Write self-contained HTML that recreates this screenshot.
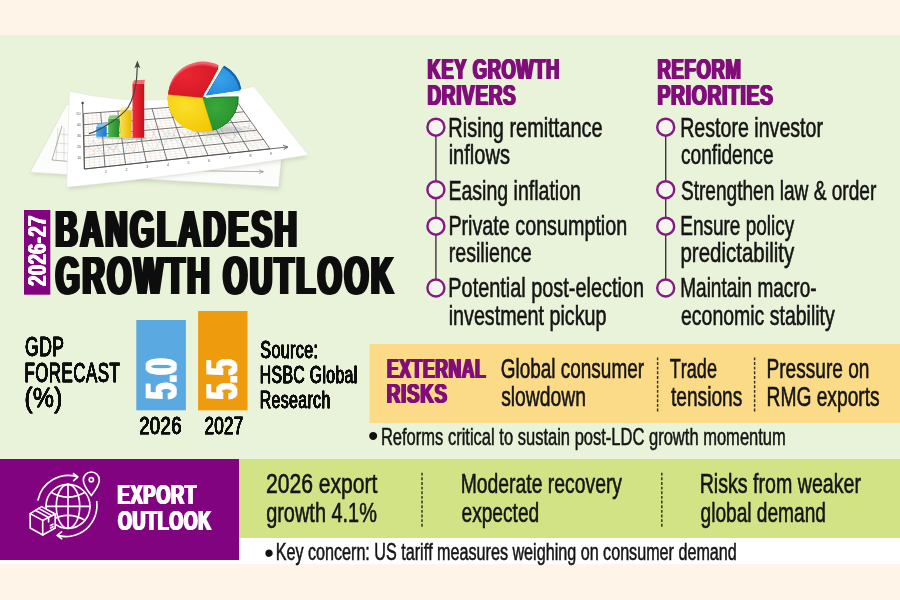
<!DOCTYPE html>
<html lang="en"><head><meta charset="utf-8"><title>Bangladesh Growth Outlook 2026-27</title>
<style>
html,body{margin:0;padding:0;background:#fef4e8;}
body{width:900px;height:600px;overflow:hidden;}
svg{display:block;font-family:'Liberation Sans', Arial, sans-serif;font-kerning:none;}
</style></head><body>
<svg width="900" height="600" viewBox="0 0 900 600">
<defs><filter id="fat19" x="-5%" y="-20%" width="110%" height="140%"><feOffset in="SourceGraphic" dx="1.9" result="a"/><feOffset in="SourceGraphic" dx="-1.9" result="b"/><feOffset in="SourceGraphic" dx="0.95" result="c"/><feOffset in="SourceGraphic" dx="-0.95" result="d"/><feMerge><feMergeNode in="a"/><feMergeNode in="b"/><feMergeNode in="c"/><feMergeNode in="d"/><feMergeNode in="SourceGraphic"/></feMerge></filter><filter id="fat14" x="-5%" y="-20%" width="110%" height="140%"><feOffset in="SourceGraphic" dx="1.4" result="a"/><feOffset in="SourceGraphic" dx="-1.4" result="b"/><feOffset in="SourceGraphic" dx="0.7" result="c"/><feOffset in="SourceGraphic" dx="-0.7" result="d"/><feMerge><feMergeNode in="a"/><feMergeNode in="b"/><feMergeNode in="c"/><feMergeNode in="d"/><feMergeNode in="SourceGraphic"/></feMerge></filter><filter id="fat05" x="-5%" y="-20%" width="110%" height="140%"><feOffset in="SourceGraphic" dx="0.5" result="a"/><feOffset in="SourceGraphic" dx="-0.5" result="b"/><feOffset in="SourceGraphic" dx="0.25" result="c"/><feOffset in="SourceGraphic" dx="-0.25" result="d"/><feMerge><feMergeNode in="a"/><feMergeNode in="b"/><feMergeNode in="c"/><feMergeNode in="d"/><feMergeNode in="SourceGraphic"/></feMerge></filter><filter id="fat045" x="-5%" y="-20%" width="110%" height="140%"><feOffset in="SourceGraphic" dx="0.45" result="a"/><feOffset in="SourceGraphic" dx="-0.45" result="b"/><feOffset in="SourceGraphic" dx="0.225" result="c"/><feOffset in="SourceGraphic" dx="-0.225" result="d"/><feMerge><feMergeNode in="a"/><feMergeNode in="b"/><feMergeNode in="c"/><feMergeNode in="d"/><feMergeNode in="SourceGraphic"/></feMerge></filter><filter id="fat04" x="-5%" y="-20%" width="110%" height="140%"><feOffset in="SourceGraphic" dx="0.4" result="a"/><feOffset in="SourceGraphic" dx="-0.4" result="b"/><feOffset in="SourceGraphic" dx="0.2" result="c"/><feOffset in="SourceGraphic" dx="-0.2" result="d"/><feMerge><feMergeNode in="a"/><feMergeNode in="b"/><feMergeNode in="c"/><feMergeNode in="d"/><feMergeNode in="SourceGraphic"/></feMerge></filter><filter id="fat035" x="-5%" y="-20%" width="110%" height="140%"><feOffset in="SourceGraphic" dx="0.35" result="a"/><feOffset in="SourceGraphic" dx="-0.35" result="b"/><feOffset in="SourceGraphic" dx="0.175" result="c"/><feOffset in="SourceGraphic" dx="-0.175" result="d"/><feMerge><feMergeNode in="a"/><feMergeNode in="b"/><feMergeNode in="c"/><feMergeNode in="d"/><feMergeNode in="SourceGraphic"/></feMerge></filter><filter id="fat06" x="-5%" y="-20%" width="110%" height="140%"><feOffset in="SourceGraphic" dx="0.6" result="a"/><feOffset in="SourceGraphic" dx="-0.6" result="b"/><feOffset in="SourceGraphic" dx="0.3" result="c"/><feOffset in="SourceGraphic" dx="-0.3" result="d"/><feMerge><feMergeNode in="a"/><feMergeNode in="b"/><feMergeNode in="c"/><feMergeNode in="d"/><feMergeNode in="SourceGraphic"/></feMerge></filter><filter id="fat03" x="-5%" y="-20%" width="110%" height="140%"><feOffset in="SourceGraphic" dx="0.3" result="a"/><feOffset in="SourceGraphic" dx="-0.3" result="b"/><feOffset in="SourceGraphic" dx="0.15" result="c"/><feOffset in="SourceGraphic" dx="-0.15" result="d"/><feMerge><feMergeNode in="a"/><feMergeNode in="b"/><feMergeNode in="c"/><feMergeNode in="d"/><feMergeNode in="SourceGraphic"/></feMerge></filter><filter id="fat08" x="-5%" y="-20%" width="110%" height="140%"><feOffset in="SourceGraphic" dx="0.8" result="a"/><feOffset in="SourceGraphic" dx="-0.8" result="b"/><feOffset in="SourceGraphic" dx="0.4" result="c"/><feOffset in="SourceGraphic" dx="-0.4" result="d"/><feMerge><feMergeNode in="a"/><feMergeNode in="b"/><feMergeNode in="c"/><feMergeNode in="d"/><feMergeNode in="SourceGraphic"/></feMerge></filter></defs>
<rect x="0" y="0" width="900" height="600" fill="#fef4e8"/>
<rect x="0" y="35" width="900" height="424" fill="#e8f3da"/>
<rect x="0" y="459" width="900" height="105" fill="#ffffff"/>
<rect x="0" y="459" width="239" height="101" fill="#82037f"/>
<rect x="239" y="459" width="661" height="79" fill="#d2e385"/>
<rect x="369.5" y="344" width="530.5" height="79" fill="#fbdb87"/>
<g id="chart">
<defs><linearGradient id="gRed" x1="0" y1="0" x2="1" y2="0"><stop offset="0" stop-color="#f0303a"/><stop offset="1" stop-color="#c8101c"/></linearGradient><linearGradient id="gYel" x1="0" y1="0" x2="1" y2="0"><stop offset="0" stop-color="#fbe04a"/><stop offset="1" stop-color="#e8b800"/></linearGradient><linearGradient id="gGrn" x1="0" y1="0" x2="1" y2="0"><stop offset="0" stop-color="#4fb84a"/><stop offset="1" stop-color="#238a28"/></linearGradient><linearGradient id="gBlu" x1="0" y1="0" x2="1" y2="0"><stop offset="0" stop-color="#4aa6e8"/><stop offset="1" stop-color="#1878c8"/></linearGradient><radialGradient id="pRed" cx="0.35" cy="0.3" r="0.9"><stop offset="0" stop-color="#ea2632"/><stop offset="1" stop-color="#d01522"/></radialGradient><radialGradient id="pYel" cx="0.4" cy="0.3" r="0.9"><stop offset="0" stop-color="#fbe02a"/><stop offset="1" stop-color="#f0c400"/></radialGradient><radialGradient id="pGrn" cx="0.4" cy="0.3" r="0.9"><stop offset="0" stop-color="#3aa83c"/><stop offset="1" stop-color="#228a2a"/></radialGradient><radialGradient id="pBlu" cx="0.4" cy="0.4" r="0.9"><stop offset="0" stop-color="#3aa2ec"/><stop offset="1" stop-color="#1c80d4"/></radialGradient><filter id="sh" x="-10%" y="-10%" width="120%" height="130%"><feGaussianBlur stdDeviation="2"/></filter></defs>
<polygon points="32,174 280,190 283,160 68,110" fill="#9aa58a" opacity="0.35" filter="url(#sh)"/>
<polygon points="67,104 30,172.4 278.75,187 281.5,158" fill="#fcfcfa" stroke="#d5d9cc" stroke-width="0.5"/>
<g stroke="#666" stroke-width="0.5" fill="none"><path d="M62,126 L52,160 L120,166"/><path d="M150,170 L263,171.7"/><path d="M259,169.8 L263.5,171.7 L259,173.6"/></g>
<g stroke="#999" stroke-width="0.3"><path d="M60,134 L68,135 M57.5,143 L68,144 M55,152 L68,153 M58,128 L56,160 M64,128 L64,161"/></g>
<polygon points="69,189.5 308,157.5 300,152 69,181" fill="#8a947a" opacity="0.3" filter="url(#sh)"/>
<path d="M69.3,91.3 Q155,111 254,86.5 L308.3,155 Q187,175.5 66.7,187.3 Z" fill="#ffffff" stroke="#dde0d6" stroke-width="0.5"/>
<path d="M87.9,113.3L89.6,168.4M92.1,113.0L94.7,167.9M96.4,112.7L99.9,167.3M105.0,112.1L110.2,166.2M109.2,111.8L115.3,165.6M113.5,111.4L120.5,165.1M122.1,110.8L130.8,163.9M126.3,110.5L136.0,163.4M130.6,110.2L141.1,162.8M139.2,109.6L151.4,161.7M143.4,109.3L156.6,161.1M147.7,109.0L161.7,160.6M156.3,108.4L172.0,159.4M160.6,108.0L177.2,158.9M164.8,107.7L182.4,158.3M173.4,107.1L192.7,157.2M177.7,106.8L197.8,156.6M181.9,106.5L203.0,156.1M190.5,105.9L213.3,154.9M194.8,105.6L218.4,154.4M199.0,105.3L223.6,153.8M207.6,104.7L233.9,152.7M211.8,104.3L239.1,152.1M216.1,104.0L244.2,151.6M224.7,103.4L254.5,150.4M228.9,103.1L259.7,149.9M233.2,102.8L264.8,149.3M83.6,116.4L239.1,104.8M83.7,119.1L240.8,107.1M83.7,121.9L242.4,109.4M83.8,127.4L245.6,114.1M83.8,130.2L247.2,116.4M83.9,133.0L248.9,118.7M84.0,138.5L252.1,123.3M84.0,141.3L253.8,125.6M84.0,144.1L255.4,127.9M84.1,149.6L258.6,132.6M84.2,152.4L260.2,134.9M84.2,155.2L261.9,137.2M84.3,160.7L265.1,141.8M84.3,163.5L266.8,144.1M84.4,166.2L268.4,146.4" stroke="#d8c8b8" stroke-width="0.3" fill="none"/>
<path d="M83.6,113.6L84.4,169.0M100.7,112.4L105.0,166.8M117.8,111.1L125.6,164.5M134.9,109.9L146.3,162.2M152.0,108.7L166.9,160.0M169.1,107.4L187.5,157.8M186.2,106.2L208.1,155.5M203.3,105.0L228.8,153.2M220.4,103.7L249.4,151.0M237.5,102.5L270.0,148.8M83.6,113.6L237.5,102.5M83.8,124.7L244.0,111.8M83.9,135.8L250.5,121.0M84.1,146.8L257.0,130.2M84.2,157.9L263.5,139.5M84.4,169.0L270.0,148.8" stroke="#484848" stroke-width="0.75" fill="none"/>
<polyline points="84.0,144.1 93.9,151.4 102.9,139.6 113.8,152.2 121.3,135.1 134.0,152.8 138.9,128.2 151.3,140.4 156.5,124.1 171.4,141.1 176.5,127.6 191.8,141.7 197.2,130.8 201.9,120.2 217.3,131.5 232.3,140.2 237.8,132.1 244.3,126.5 260.2,134.9" fill="none" stroke="#e88a7a" stroke-width="0.6" opacity="0.55"/>
<polyline points="84.2,152.4 93.4,140.4 104.2,155.9 112.9,144.1 124.5,156.5 130.2,131.7 141.7,141.3 147.4,124.8 163.2,147.2 168.9,133.5 183.8,147.7 189.8,136.7 195.0,125.9 211.3,139.7 210.9,119.5 233.6,142.6 234.9,127.4 247.4,131.2 250.5,121.0" fill="none" stroke="#8ab4dc" stroke-width="0.6" opacity="0.55"/>
<polyline points="84.2,157.9 94.1,154.2 103.3,145.0 113.5,149.5 122.1,140.5 132.6,144.9 140.6,136.1 154.0,150.8 160.9,139.5 168.0,130.9 181.1,140.1 187.7,131.7 204.8,148.1 207.8,132.4 221.1,138.8 222.7,123.5 246.5,146.3 244.3,126.5 257.0,130.2" fill="none" stroke="#9acb8a" stroke-width="0.6" opacity="0.55"/>
<g stroke="#444" stroke-width="0.8" fill="none"><path d="M82.6,103 L84.4,169 L287.5,147"/><path d="M283,145.2 L287.8,147 L283.6,149.6"/><circle cx="82.6" cy="103" r="0.9" fill="#444"/></g>
<g font-size="3.6" fill="#555" text-anchor="end">
<text x="80.6" y="114.8">50</text>
<text x="80.8" y="125.9">40</text>
<text x="80.9" y="137.0">30</text>
<text x="81.1" y="148.0">20</text>
<text x="81.2" y="159.1">10</text>
</g><g font-size="3.6" fill="#555" text-anchor="middle">
<text x="106.0" y="172.8">1</text>
<text x="126.6" y="170.5">2</text>
<text x="147.3" y="168.2">3</text>
<text x="167.9" y="166.0">4</text>
<text x="188.5" y="163.8">5</text>
<text x="209.1" y="161.5">6</text>
<text x="229.8" y="159.2">7</text>
<text x="250.4" y="157.0">8</text>
<text x="271.0" y="154.8">9</text>
</g>
<ellipse cx="102.5" cy="137.2" rx="7.2" ry="1.8" fill="#777" opacity="0.3"/>
<rect x="96.2" y="127" width="10.5" height="9.7" fill="url(#gBlu)"/>
<polygon points="96.2,127 97.7,123.8 107.5,123.2 106.7,127" fill="#7cc4f4"/>
<ellipse cx="114.8" cy="137.7" rx="7.5" ry="1.8" fill="#777" opacity="0.3"/>
<rect x="108.2" y="118.7" width="11.1" height="18.5" fill="url(#gGrn)"/>
<polygon points="108.2,118.7 109.7,115.5 120.1,114.9 119.3,118.7" fill="#7ad070"/>
<ellipse cx="126.9" cy="138.3" rx="7.7" ry="1.8" fill="#777" opacity="0.3"/>
<rect x="120.2" y="110.5" width="11.5" height="27.3" fill="url(#gYel)"/>
<polygon points="120.2,110.5 121.7,107.3 132.5,106.7 131.7,110.5" fill="#fff08a"/>
<ellipse cx="139.3" cy="138.3" rx="7.8" ry="1.8" fill="#777" opacity="0.3"/>
<rect x="132.5" y="83.5" width="11.7" height="54.3" fill="url(#gRed)"/>
<polygon points="132.5,83.5 134.0,80.3 145.0,79.7 144.2,83.5" fill="#f86a70"/>
<path d="M89,133.7 C97,131.5 104,127 111,122.5 C119,117 124,113 128,107.5 C132,101 135.5,90 136.7,77.5 L137.3,66" fill="none" stroke="#454545" stroke-width="1.2"/>
<path d="M134.4,68.2 L137.4,60.5 L140.3,68.2 L137.3,66.6 Z" fill="#454545"/>
<ellipse cx="216.5" cy="129.9" rx="26" ry="4.5" fill="#555" opacity="0.28" filter="url(#sh)"/>
<path d="M203.1,93.8 L168.7,90.4 A34.7,33.3 0 0 1 218.4,65.0 Z" fill="#f4606a"/>
<path d="M202.5,96.6 L212.6,129.5 A34.7,33.3 0 0 1 168.1,93.2 Z" fill="#f0cc30"/>
<path d="M203.9,97.0 L238.6,96.6 A34.7,33.3 0 0 1 214.0,129.9 Z" fill="#1f7f27"/>
<path d="M203.0,94.5 L168.6,91.1 A34.7,33.3 0 0 1 218.3,65.7 Z" fill="#f4606a"/>
<path d="M202.5,96.8 L212.6,129.7 A34.7,33.3 0 0 1 168.1,93.4 Z" fill="#f0cc30"/>
<path d="M203.7,97.1 L238.3,96.8 A34.7,33.3 0 0 1 213.8,130.1 Z" fill="#1f7f27"/>
<path d="M202.9,95.1 L168.5,91.8 A34.7,33.3 0 0 1 218.2,66.4 Z" fill="#f4606a"/>
<path d="M202.5,97.0 L212.6,129.9 A34.7,33.3 0 0 1 168.1,93.6 Z" fill="#f0cc30"/>
<path d="M203.4,97.3 L238.1,96.9 A34.7,33.3 0 0 1 213.6,130.2 Z" fill="#1f7f27"/>
<path d="M202.8,95.8 L168.4,92.4 A34.7,33.3 0 0 1 218.1,67.0 Z" fill="#f4606a"/>
<path d="M202.5,97.2 L212.6,130.1 A34.7,33.3 0 0 1 168.1,93.8 Z" fill="#f0cc30"/>
<path d="M203.2,97.4 L237.9,97.0 A34.7,33.3 0 0 1 213.3,130.3 Z" fill="#1f7f27"/>
<path d="M202.7,96.5 L168.3,93.1 A34.7,33.3 0 0 1 218.0,67.7 Z" fill="#ec3a46"/>
<path d="M202.5,97.4 L212.6,130.3 A34.7,33.3 0 0 1 168.1,94.0 Z" fill="#f0cc30"/>
<path d="M203.0,97.5 L237.6,97.2 A34.7,33.3 0 0 1 213.1,130.5 Z" fill="#1f7f27"/>
<path d="M202.6,97.1 L168.2,93.8 A34.7,33.3 0 0 1 217.9,68.4 Z" fill="#ec3a46"/>
<path d="M202.5,97.6 L212.6,130.5 A34.7,33.3 0 0 1 168.1,94.2 Z" fill="#f0cc30"/>
<path d="M202.7,97.7 L237.4,97.3 A34.7,33.3 0 0 1 212.9,130.6 Z" fill="#1f7f27"/>
<path d="M202.5,97.8 L217.8,69.0 L218.4,65.0 Z" fill="#b01420"/>
<path d="M202.5,97.8 L237.2,97.4 A34.7,33.3 0 0 1 212.6,130.7 Z" fill="url(#pGrn)"/>
<path d="M202.5,97.8 L212.6,130.7 A34.7,33.3 0 0 1 168.1,94.4 Z" fill="url(#pYel)"/>
<path d="M202.5,97.8 L168.1,94.4 A34.7,33.3 0 0 1 217.8,69.0 Z" fill="url(#pRed)"/>
<path d="M202.5,97.8 L212.6,130.7" stroke="#b9a400" stroke-width="0.6" opacity="0.6"/>
<path d="M202.5,97.8 L168.1,94.4" stroke="#c84818" stroke-width="0.6" opacity="0.5"/>
<path d="M207.6,93.8 L224.4,65.8 A34.7,33.3 0 0 1 241.3,88.8 Z" fill="#1664ae"/>
<path d="M207.3,94.1 L224.2,66.0 A34.7,33.3 0 0 1 241.0,89.1 Z" fill="#1664ae"/>
<path d="M207.1,94.3 L223.9,66.3 A34.7,33.3 0 0 1 240.7,89.4 Z" fill="#1664ae"/>
<path d="M206.8,94.6 L223.7,66.6 A34.7,33.3 0 0 1 240.5,89.6 Z" fill="#1664ae"/>
<path d="M206.5,94.9 L223.4,66.8 A34.7,33.3 0 0 1 240.2,89.9 Z" fill="#1664ae"/>
<path d="M206.3,95.1 L223.1,67.1 A34.7,33.3 0 0 1 239.9,90.2 Z" fill="#1664ae"/>
<path d="M205.4,96.0 L240.5,90.6 L240.1,93.4 L205.8,98.0 Z" fill="#eef4f6"/>
<path d="M204.1,95.6 L220.0,69.2" stroke="#f4f6f0" stroke-width="1.5"/>
<path d="M206.0,95.4 L222.8,67.4 A34.7,33.3 0 0 1 239.7,90.4 Z" fill="url(#pBlu)"/>
</g>
<rect x="24" y="210" width="26.3" height="84.7" fill="#82037f"/>
<g transform="translate(46,0) rotate(-90)">
<text x="-286.14" y="0.00" font-size="25.73" font-weight="bold" fill="#ffffff" textLength="70.52" lengthAdjust="spacingAndGlyphs" filter="url(#fat05)" letter-spacing="0.5">2026-27</text>
</g>
<text x="55.54" y="247.10" font-size="52.62" font-weight="bold" fill="#0a0a0a" textLength="243.98" lengthAdjust="spacingAndGlyphs" filter="url(#fat19)" letter-spacing="4.5">BANGLADESH</text>
<text x="55.83" y="294.10" font-size="53.20" font-weight="bold" fill="#0a0a0a" textLength="340.16" lengthAdjust="spacingAndGlyphs" filter="url(#fat19)" letter-spacing="4.5">GROWTH OUTLOOK</text>
<text x="427.58" y="78.70" font-size="28.78" font-weight="bold" fill="#801179" textLength="132.29" lengthAdjust="spacingAndGlyphs" filter="url(#fat08)" letter-spacing="1.0">KEY GROWTH</text>
<text x="427.53" y="104.70" font-size="28.78" font-weight="bold" fill="#801179" textLength="88.76" lengthAdjust="spacingAndGlyphs" filter="url(#fat08)" letter-spacing="1.0">DRIVERS</text>
<text x="657.56" y="78.70" font-size="28.78" font-weight="bold" fill="#801179" textLength="84.02" lengthAdjust="spacingAndGlyphs" filter="url(#fat08)" letter-spacing="1.0">REFORM</text>
<text x="657.51" y="104.70" font-size="28.78" font-weight="bold" fill="#801179" textLength="116.12" lengthAdjust="spacingAndGlyphs" filter="url(#fat08)" letter-spacing="1.0">PRIORITIES</text>
<text x="448.36" y="136.90" font-size="27.33" font-weight="normal" fill="#151515" textLength="154.22" lengthAdjust="spacingAndGlyphs" stroke="#151515" stroke-width="0.6">Rising remittance</text>
<text x="448.66" y="164.20" font-size="27.33" font-weight="normal" fill="#151515" textLength="61.27" lengthAdjust="spacingAndGlyphs" stroke="#151515" stroke-width="0.6">inflows</text>
<text x="448.40" y="199.50" font-size="27.33" font-weight="normal" fill="#151515" textLength="132.57" lengthAdjust="spacingAndGlyphs" stroke="#151515" stroke-width="0.6">Easing inflation</text>
<text x="448.38" y="234.80" font-size="27.33" font-weight="normal" fill="#151515" textLength="178.85" lengthAdjust="spacingAndGlyphs" stroke="#151515" stroke-width="0.6">Private consumption</text>
<text x="448.70" y="262.10" font-size="27.33" font-weight="normal" fill="#151515" textLength="82.87" lengthAdjust="spacingAndGlyphs" stroke="#151515" stroke-width="0.6">resilience</text>
<text x="448.37" y="297.30" font-size="27.33" font-weight="normal" fill="#151515" textLength="195.62" lengthAdjust="spacingAndGlyphs" stroke="#151515" stroke-width="0.6">Potential post-election</text>
<text x="448.68" y="324.70" font-size="27.33" font-weight="normal" fill="#151515" textLength="157.85" lengthAdjust="spacingAndGlyphs" stroke="#151515" stroke-width="0.6">investment pickup</text>
<text x="680.19" y="136.90" font-size="27.33" font-weight="normal" fill="#151515" textLength="142.83" lengthAdjust="spacingAndGlyphs" stroke="#151515" stroke-width="0.6">Restore investor</text>
<text x="680.99" y="164.20" font-size="27.33" font-weight="normal" fill="#151515" textLength="92.56" lengthAdjust="spacingAndGlyphs" stroke="#151515" stroke-width="0.6">confidence</text>
<text x="680.93" y="199.50" font-size="27.33" font-weight="normal" fill="#151515" textLength="195.33" lengthAdjust="spacingAndGlyphs" stroke="#151515" stroke-width="0.6">Strengthen law &amp; order</text>
<text x="680.24" y="234.80" font-size="27.33" font-weight="normal" fill="#151515" textLength="113.99" lengthAdjust="spacingAndGlyphs" stroke="#151515" stroke-width="0.6">Ensure policy</text>
<text x="680.48" y="262.10" font-size="27.33" font-weight="normal" fill="#151515" textLength="113.76" lengthAdjust="spacingAndGlyphs" stroke="#151515" stroke-width="0.6">predictability</text>
<text x="680.24" y="297.30" font-size="27.33" font-weight="normal" fill="#151515" textLength="136.30" lengthAdjust="spacingAndGlyphs" stroke="#151515" stroke-width="0.6">Maintain macro-</text>
<text x="680.97" y="324.70" font-size="27.33" font-weight="normal" fill="#151515" textLength="153.77" lengthAdjust="spacingAndGlyphs" stroke="#151515" stroke-width="0.6">economic stability</text>
<line x1="435.9" y1="128" x2="435.9" y2="287" stroke="#3f3340" stroke-width="1.4"/>
<circle cx="435.9" cy="127.2" r="8.5" fill="#f3f6ea" stroke="#861884" stroke-width="2.4"/>
<circle cx="435.9" cy="189.7" r="8.5" fill="#f3f6ea" stroke="#861884" stroke-width="2.4"/>
<circle cx="435.9" cy="226.2" r="8.5" fill="#f3f6ea" stroke="#861884" stroke-width="2.4"/>
<circle cx="435.9" cy="288" r="8.5" fill="#f3f6ea" stroke="#861884" stroke-width="2.4"/>
<line x1="665.7" y1="128" x2="665.7" y2="287" stroke="#3f3340" stroke-width="1.4"/>
<circle cx="665.7" cy="127.2" r="8.5" fill="#f3f6ea" stroke="#861884" stroke-width="2.4"/>
<circle cx="665.7" cy="189.7" r="8.5" fill="#f3f6ea" stroke="#861884" stroke-width="2.4"/>
<circle cx="665.7" cy="226.2" r="8.5" fill="#f3f6ea" stroke="#861884" stroke-width="2.4"/>
<circle cx="665.7" cy="288" r="8.5" fill="#f3f6ea" stroke="#861884" stroke-width="2.4"/>
<text x="24.97" y="356.30" font-size="26.89" font-weight="normal" fill="#111" textLength="39.58" lengthAdjust="spacingAndGlyphs" stroke="#111" stroke-width="0.4" filter="url(#fat045)" letter-spacing="0.8">GDP</text>
<text x="24.47" y="381.80" font-size="26.89" font-weight="normal" fill="#111" textLength="95.77" lengthAdjust="spacingAndGlyphs" stroke="#111" stroke-width="0.4" filter="url(#fat045)" letter-spacing="0.8">FORECAST</text>
<text x="24.39" y="407.20" font-size="26.89" font-weight="normal" fill="#111" textLength="38.61" lengthAdjust="spacingAndGlyphs" stroke="#111" stroke-width="0.4" filter="url(#fat045)" letter-spacing="0.8">(%)</text>
<rect x="136.3" y="320" width="49.6" height="90.3" fill="#5aa9e0"/>
<rect x="198.1" y="311" width="49.4" height="99.3" fill="#ee9b0e"/>
<g transform="translate(176.7,0) rotate(-90)">
<text x="-399.31" y="0.00" font-size="43.90" font-weight="bold" fill="#fff" textLength="41.12" lengthAdjust="spacingAndGlyphs" filter="url(#fat14)">5.0</text>
</g>
<g transform="translate(237.3,0) rotate(-90)">
<text x="-399.29" y="0.00" font-size="43.90" font-weight="bold" fill="#fff" textLength="40.09" lengthAdjust="spacingAndGlyphs" filter="url(#fat14)">5.5</text>
</g>
<text x="139.21" y="433.70" font-size="24.42" font-weight="normal" fill="#111" textLength="42.66" lengthAdjust="spacingAndGlyphs" stroke="#111" stroke-width="0.4" filter="url(#fat035)" letter-spacing="0.4">2026</text>
<text x="204.39" y="433.70" font-size="24.42" font-weight="normal" fill="#111" textLength="39.20" lengthAdjust="spacingAndGlyphs" stroke="#111" stroke-width="0.4" filter="url(#fat035)" letter-spacing="0.4">2027</text>
<text x="260.37" y="357.80" font-size="23.11" font-weight="normal" fill="#111" textLength="58.06" lengthAdjust="spacingAndGlyphs" stroke="#111" stroke-width="0.4" filter="url(#fat04)" letter-spacing="0.5">Source:</text>
<text x="259.80" y="382.50" font-size="23.11" font-weight="normal" fill="#111" textLength="97.80" lengthAdjust="spacingAndGlyphs" stroke="#111" stroke-width="0.4" filter="url(#fat04)" letter-spacing="0.5">HSBC Global</text>
<text x="259.80" y="407.70" font-size="23.11" font-weight="normal" fill="#111" textLength="70.78" lengthAdjust="spacingAndGlyphs" stroke="#111" stroke-width="0.4" filter="url(#fat04)" letter-spacing="0.5">Research</text>
<text x="386.93" y="377.70" font-size="27.91" font-weight="bold" fill="#801179" textLength="99.44" lengthAdjust="spacingAndGlyphs" filter="url(#fat08)" letter-spacing="1.0">EXTERNAL</text>
<text x="386.84" y="403.30" font-size="27.91" font-weight="bold" fill="#801179" textLength="60.76" lengthAdjust="spacingAndGlyphs" filter="url(#fat08)" letter-spacing="1.0">RISKS</text>
<text x="500.75" y="377.70" font-size="27.62" font-weight="normal" fill="#151515" textLength="143.27" lengthAdjust="spacingAndGlyphs" stroke="#151515" stroke-width="0.6">Global consumer</text>
<text x="501.16" y="406.00" font-size="27.62" font-weight="normal" fill="#151515" textLength="84.79" lengthAdjust="spacingAndGlyphs" stroke="#151515" stroke-width="0.6">slowdown</text>
<text x="669.69" y="377.50" font-size="27.62" font-weight="normal" fill="#151515" textLength="47.31" lengthAdjust="spacingAndGlyphs" stroke="#151515" stroke-width="0.6">Trade</text>
<text x="671.01" y="405.90" font-size="27.62" font-weight="normal" fill="#151515" textLength="71.28" lengthAdjust="spacingAndGlyphs" stroke="#151515" stroke-width="0.6">tensions</text>
<text x="766.53" y="377.70" font-size="27.62" font-weight="normal" fill="#151515" textLength="102.91" lengthAdjust="spacingAndGlyphs" stroke="#151515" stroke-width="0.6">Pressure on</text>
<text x="766.52" y="406.00" font-size="27.62" font-weight="normal" fill="#151515" textLength="113.17" lengthAdjust="spacingAndGlyphs" stroke="#151515" stroke-width="0.6">RMG exports</text>
<line x1="657.6" y1="357.4" x2="657.6" y2="412" stroke="#33301a" stroke-width="1.45" stroke-dasharray="2.9 1.75"/>
<line x1="754.6" y1="357.4" x2="754.6" y2="412" stroke="#33301a" stroke-width="1.45" stroke-dasharray="2.9 1.75"/>
<text x="367.93" y="446.48" font-size="29.52" fill="#111">•</text>
<text x="380.91" y="444.70" font-size="23.84" font-weight="normal" fill="#151515" textLength="404.90" lengthAdjust="spacingAndGlyphs" stroke="#151515" stroke-width="0.55">Reforms critical to sustain post-LDC growth momentum</text>
<text x="117.58" y="503.60" font-size="27.76" font-weight="bold" fill="#fff" textLength="79.18" lengthAdjust="spacingAndGlyphs" filter="url(#fat08)" letter-spacing="1.0">EXPORT</text>
<text x="118.07" y="529.60" font-size="27.76" font-weight="bold" fill="#fff" textLength="93.64" lengthAdjust="spacingAndGlyphs" filter="url(#fat08)" letter-spacing="1.0">OUTLOOK</text>
<text x="265.94" y="493.00" font-size="27.91" font-weight="normal" fill="#151515" textLength="111.52" lengthAdjust="spacingAndGlyphs" stroke="#151515" stroke-width="0.6">2026 export</text>
<text x="266.16" y="521.70" font-size="27.91" font-weight="normal" fill="#151515" textLength="110.75" lengthAdjust="spacingAndGlyphs" stroke="#151515" stroke-width="0.6">growth 4.1%</text>
<text x="460.71" y="493.00" font-size="27.91" font-weight="normal" fill="#151515" textLength="161.33" lengthAdjust="spacingAndGlyphs" stroke="#151515" stroke-width="0.6">Moderate recovery</text>
<text x="461.49" y="521.70" font-size="27.91" font-weight="normal" fill="#151515" textLength="77.75" lengthAdjust="spacingAndGlyphs" stroke="#151515" stroke-width="0.6">expected</text>
<text x="699.69" y="493.00" font-size="27.91" font-weight="normal" fill="#151515" textLength="161.34" lengthAdjust="spacingAndGlyphs" stroke="#151515" stroke-width="0.6">Risks from weaker</text>
<text x="700.50" y="521.70" font-size="27.91" font-weight="normal" fill="#151515" textLength="125.44" lengthAdjust="spacingAndGlyphs" stroke="#151515" stroke-width="0.6">global demand</text>
<line x1="422" y1="472.7" x2="422" y2="528" stroke="#33301a" stroke-width="1.45" stroke-dasharray="2.9 1.75"/>
<line x1="661.8" y1="472.7" x2="661.8" y2="528" stroke="#33301a" stroke-width="1.45" stroke-dasharray="2.9 1.75"/>
<text x="264.22" y="561.75" font-size="27.31" fill="#111">•</text>
<text x="275.65" y="560.30" font-size="23.69" font-weight="normal" fill="#151515" textLength="461.12" lengthAdjust="spacingAndGlyphs" stroke="#151515" stroke-width="0.55">Key concern: US tariff measures weighing on consumer demand</text>
<g id="icon" fill="none" stroke="#ffffff" stroke-width="1.65" stroke-linecap="round" stroke-linejoin="round">
<circle cx="68" cy="506.3" r="22"/>
<ellipse cx="68" cy="506.3" rx="11.7" ry="22"/>
<path d="M68,484.3 V528.3 M46,506.3 H90"/>
<path d="M51,492.3 Q68,502 85,492.3"/>
<path d="M51,520.3 Q68,510.6 85,520.3"/>
<path d="M38,500 A31,31 0 0 1 77.3,476.8"/>
<path d="M73.5,473.6 L77.8,477 L73.6,480.6"/>
<path d="M96.7,501.7 A31,31 0 0 1 57.6,535.4"/>
<path d="M61.6,531.8 L57.2,535.4 L61.8,538.8"/>
<path d="M91.3,495.6 C86,488.8 83.3,484.4 83.3,480 A8,8 0 0 1 99.3,480 C99.3,484.4 96.6,488.8 91.3,495.6 Z" fill="#82037f"/>
<circle cx="91.3" cy="479.8" r="2.1"/>
<path d="M42.7,535 L30.2,528 V513.6 L41.6,506.6 L55.2,514 V528 Z" fill="#82037f"/>
<path d="M30.2,513.6 L42.7,520.4 L55.2,514 M42.7,520.4 V535"/>
<path d="M35.6,510.4 L48.6,517.4 V522 M38.6,508.4 L51.8,515.6"/>
<path d="M50.5,525.5 L53,524.2 M50.5,528 L53,526.7"/>
</g>

</svg>
</body></html>
